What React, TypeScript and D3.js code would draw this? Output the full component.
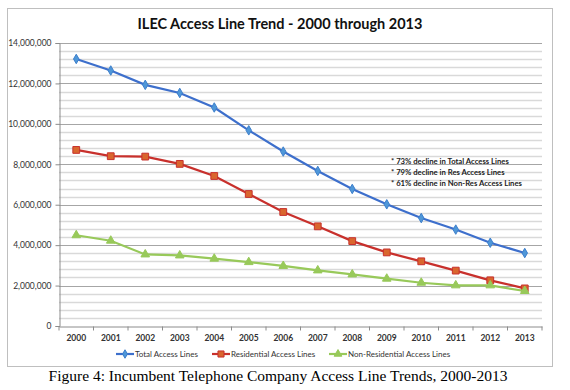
import { useRef, useEffect } from 'react';
import * as d3 from 'd3';

const years = ['2000', '2001', '2002', '2003', '2004', '2005', '2006', '2007', '2008', '2009', '2010', '2011', '2012', '2013'];
const totalLines = [13210000, 12640000, 11930000, 11530000, 10810000, 9680000, 8630000, 7670000, 6780000, 6020000, 5340000, 4770000, 4120000, 3610000];
const resLines = [8710000, 8400000, 8380000, 8020000, 7420000, 6530000, 5640000, 4930000, 4200000, 3640000, 3200000, 2740000, 2260000, 1860000];
const nonResLines = [4490000, 4220000, 3540000, 3490000, 3330000, 3160000, 2970000, 2750000, 2550000, 2340000, 2140000, 2010000, 2010000, 1730000];
const yTicks = [0, 2000000, 4000000, 6000000, 8000000, 10000000, 12000000, 14000000];
const notes = ['* 73% decline in Total Access Lines', '* 79% decline in Res Access Lines', '* 61% decline in Non-Res Access Lines'];

const SERIES = [
  { name: 'Total Access Lines', values: totalLines, line: '#3d6fcc', fill: '#4f97d8', stroke: '#3d7fcc', shape: d3.symbolDiamond, size: 26 },
  { name: 'Residential Access Lines', values: resLines, line: '#c8302c', fill: '#d9662e', stroke: '#c8302c', shape: d3.symbolSquare, size: 46 },
  { name: 'Non-Residential Access Lines', values: nonResLines, line: '#98c95a', fill: '#98c95a', stroke: '#98c95a', shape: d3.symbolTriangle, size: 32 },
];

const FONT = 'Lato, "Open Sans", sans-serif';

export default function App() {
  const svgRef = useRef<SVGSVGElement>(null);

  useEffect(() => {
    const svg = d3.select(svgRef.current);
    svg.selectAll('*').remove();

    const margin = { left: 59, right: 28, top: 43, bottom: 64 };
    const W = 570, H = 390;

    // chart frame
    svg.append('rect')
      .attr('x', 7.5).attr('y', 8.5).attr('width', 545).attr('height', 358)
      .attr('fill', '#fff').attr('stroke', '#bfbfbf').attr('stroke-width', 1);

    svg.append('text')
      .attr('x', 280).attr('y', 29)
      .attr('text-anchor', 'middle')
      .style('font-family', FONT).style('font-weight', 'bold').style('font-size', '14.5px')
      .attr('fill', '#111')
      .text('ILEC Access Line Trend - 2000 through 2013');

    const x = d3.scaleBand().domain(years).range([margin.left, W - margin.right]);
    const y = d3.scaleLinear().domain([0, 14000000]).range([H - margin.bottom, margin.top]);

    const g = svg.append('g');

    // minor grid
    g.append('g').selectAll('line')
      .data(d3.range(400000, 14000000, 400000).filter(v => v % 2000000 !== 0))
      .join('line')
      .attr('x1', margin.left).attr('x2', W - margin.right)
      .attr('y1', d => Math.round(y(d)) + 0.5).attr('y2', d => Math.round(y(d)) + 0.5)
      .attr('stroke', '#d9d9d9').attr('stroke-width', 1.5);

    // major grid
    g.append('g').selectAll('line')
      .data(yTicks.slice(1))
      .join('line')
      .attr('x1', margin.left).attr('x2', W - margin.right)
      .attr('y1', d => Math.round(y(d)) + 0.5).attr('y2', d => Math.round(y(d)) + 0.5)
      .attr('stroke', '#a6a6a6').attr('stroke-width', 1);

    // y axis
    const yAxis = g.append('g')
      .attr('transform', `translate(${margin.left + 0.5},0)`)
      .call(d3.axisLeft(y).tickValues(yTicks).tickSize(4).tickPadding(4).tickFormat(d => d3.format(',')(d as number)));
    yAxis.selectAll('text').attr('fill', '#333').style('font-size', '8.5px').style('font-family', FONT);
    yAxis.selectAll('line,path').attr('stroke', '#8c8c8c');

    // x axis
    const xAxis = g.append('g')
      .attr('transform', `translate(0,${Math.round(y(0)) + 0.5})`)
      .call(d3.axisBottom(x).tickSize(0).tickPadding(8));
    xAxis.selectAll('text').attr('fill', '#333').style('font-size', '8.5px').style('font-family', FONT).style('font-weight', 'bold');
    xAxis.selectAll('path').attr('stroke', '#8c8c8c');
    xAxis.append('g').selectAll('line')
      .data(years.concat(['end']))
      .join('line')
      .attr('x1', (d, i) => margin.left + i * x.step()).attr('x2', (d, i) => margin.left + i * x.step())
      .attr('y1', 0).attr('y2', 4)
      .attr('stroke', '#8c8c8c');

    const cx = (i: number) => (x(years[i]) as number) + x.bandwidth() / 2;

    SERIES.forEach(s => {
      const line = d3.line<number>().x((_, i) => cx(i)).y(v => y(v));
      g.append('path')
        .datum(s.values)
        .attr('d', line)
        .attr('fill', 'none')
        .attr('stroke', s.line)
        .attr('stroke-width', 2.2);
      g.append('g').selectAll('path')
        .data(s.values)
        .join('path')
        .attr('transform', (v, i) => `translate(${cx(i)},${y(v)})`)
        .attr('d', d3.symbol(s.shape, s.size)())
        .attr('fill', s.fill)
        .attr('stroke', s.stroke)
        .attr('stroke-width', 1);
    });

    // notes
    g.append('g').selectAll('text')
      .data(notes)
      .join('text')
      .attr('x', 391).attr('y', (d, i) => 163.5 + i * 11.3)
      .style('font-family', FONT).style('font-size', '7.7px').style('font-weight', 'bold')
      .attr('fill', '#222')
      .text(d => d);

    // legend
    const legendX = [116, 212, 329];
    const leg = g.append('g').attr('transform', 'translate(0,354)');
    SERIES.forEach((s, i) => {
      const item = leg.append('g').attr('transform', `translate(${legendX[i]},0)`);
      item.append('line').attr('x1', 0).attr('x2', 18).attr('stroke', s.line).attr('stroke-width', 2.2);
      item.append('path').attr('transform', 'translate(9,0)').attr('d', d3.symbol(s.shape, s.size * 0.8)())
        .attr('fill', s.fill).attr('stroke', s.stroke);
      item.append('text').attr('x', 19).attr('y', 3)
        .style('font-family', FONT).style('font-size', '8px').attr('fill', '#333')
        .text(s.name);
    });

    svg.append('text')
      .attr('x', 278).attr('y', 381)
      .attr('text-anchor', 'middle')
      .style('font-family', '"Liberation Serif", "Times New Roman", serif').style('font-size', '15.5px')
      .attr('fill', '#000')
      .text('Figure 4: Incumbent Telephone Company Access Line Trends, 2000-2013');
  }, []);

  return (
    <svg ref={svgRef} width={570} height={390} style={{ position: 'absolute', left: 0, top: 0, background: '#fff' }} />
  );
}
